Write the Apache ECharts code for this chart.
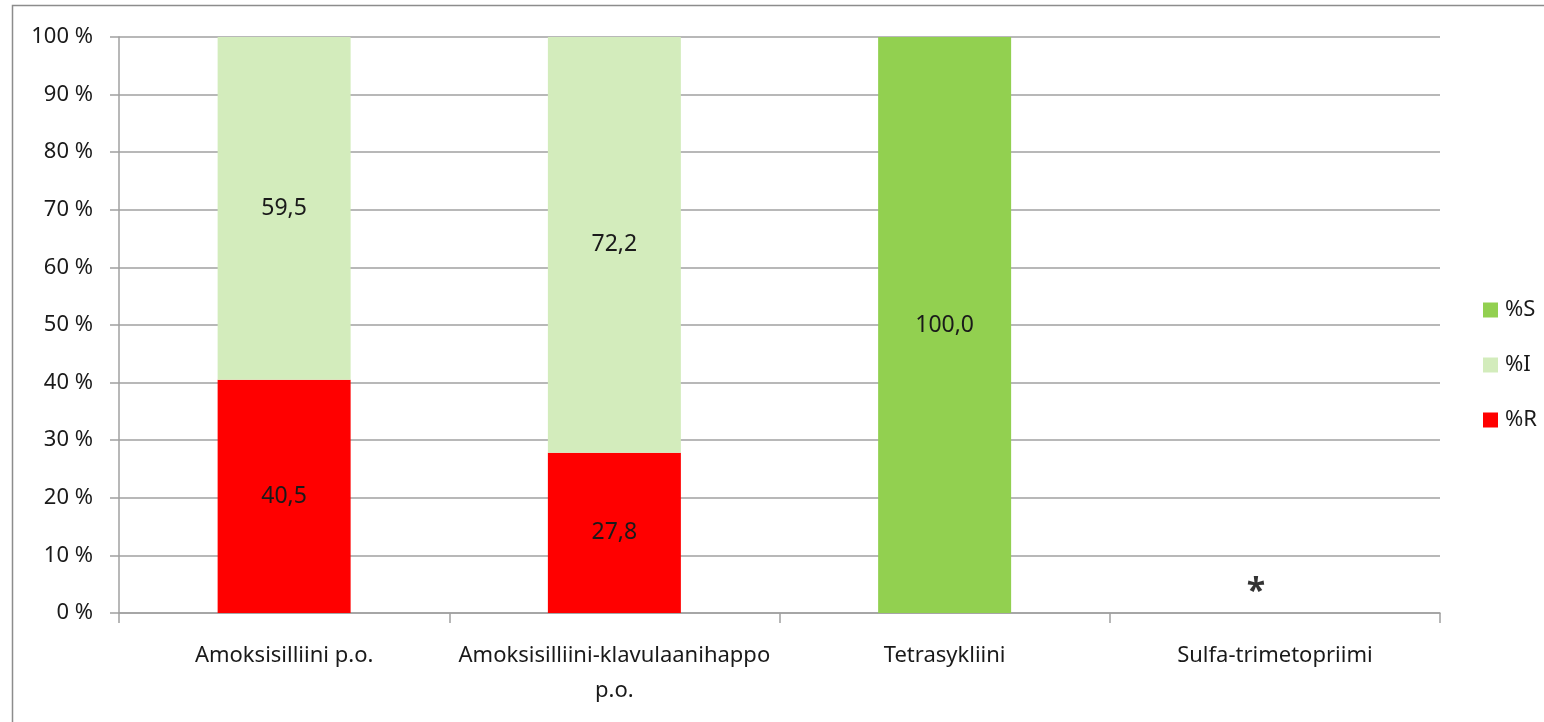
<!DOCTYPE html>
<html>
<head>
    <meta charset="utf-8">
    <script src="https://cdn.jsdelivr.net/npm/echarts@6/dist/echarts.min.js"></script>
    <style>
        html, body { margin: 0; padding: 0; background: #fff; }
        #main { width: 1544px; height: 722px; }
    </style>
</head>
<body>
    <div id="main"></div>
    <script>
        // data
        var categories = ['Amoksisilliini p.o.', 'Amoksisilliini-klavulaanihappo\np.o.', 'Tetrasykliini', 'Sulfa-trimetopriimi'];
        var valR = [40.5, 27.8, 0, null];
        var valI = [59.5, 72.2, 0, null];
        var valS = [0, 0, 100, null];
        // asterisk note: no data for the last drug
        var noteMark = [null, null, null, 0];
        var yTicks = [0, 10, 20, 30, 40, 50, 60, 70, 80, 90, 100];

        var font = 'Noto Sans';
        var chart = echarts.init(document.getElementById('main'));

        function valueLabel(p) {
            if (!p.value) return '';
            return p.value.toFixed(1).replace('.', ',');
        }

        var labelStyle = {
            show: true,
            position: 'inside',
            color: '#1a1a1a',
            fontFamily: font,
            fontSize: 23,
            formatter: valueLabel
        };

        var option = {
            animation: false,
            backgroundColor: '#fff',
            graphic: [{
                type: 'rect',
                left: 10, top: 3,
                shape: { width: 1560, height: 760 },
                style: { fill: 'none', stroke: '#8c8c8c', lineWidth: 1.5 },
                silent: true
            }],
            grid: { left: 119, right: 104, top: 37, bottom: 109 },
            legend: {
                orient: 'vertical',
                left: 1483,
                top: 299,
                padding: 0,
                itemWidth: 15,
                itemHeight: 15,
                itemGap: 33,
                icon: 'rect',
                data: ['%S', '%I', '%R'],
                textStyle: { fontFamily: font, fontSize: 22, color: '#1a1a1a', padding: [0, 0, 0, 2] }
            },
            xAxis: {
                type: 'category',
                data: categories,
                axisLine: { lineStyle: { color: '#a0a0a0', width: 1.5 } },
                axisTick: { show: true, length: 10, lineStyle: { color: '#a0a0a0', width: 1.5 } },
                axisLabel: {
                    margin: 25,
                    fontFamily: font,
                    fontSize: 22,
                    color: '#1a1a1a',
                    lineHeight: 35,
                    interval: 0
                }
            },
            yAxis: {
                type: 'value',
                min: 0, max: 100, interval: 10,
                axisLine: { show: true, lineStyle: { color: '#a0a0a0', width: 1.5 } },
                axisTick: { show: true, length: 9, lineStyle: { color: '#a0a0a0', width: 1.5 } },
                splitLine: { lineStyle: { color: '#a0a0a0', width: 1.5 } },
                axisLabel: {
                    margin: 26,
                    fontFamily: font,
                    fontSize: 22,
                    color: '#1a1a1a',
                    formatter: function (v) { return yTicks.indexOf(v) >= 0 ? v + ' %' : ''; }
                }
            },
            series: [
                { name: '%R', type: 'bar', stack: 'all', barWidth: 133, data: valR,
                  itemStyle: { color: '#ff0000' }, label: labelStyle },
                { name: '%I', type: 'bar', stack: 'all', barWidth: 133, data: valI,
                  itemStyle: { color: '#d3ecbc' }, label: labelStyle },
                { name: '%S', type: 'bar', stack: 'all', barWidth: 133, data: valS,
                  itemStyle: { color: '#92d050' }, label: labelStyle },
                { name: 'note', type: 'scatter', data: noteMark, symbolSize: 0,
                  label: {
                      show: true, position: 'top', distance: 4, offset: [-19, 0],
                      formatter: '*', color: '#000', fontFamily: font,
                      fontSize: 34, fontWeight: 'bold'
                  } }
            ]
        };
        chart.setOption(option);

        window.onresize = function () {
            chart.resize();
        };
    </script>
</body>
</html>
